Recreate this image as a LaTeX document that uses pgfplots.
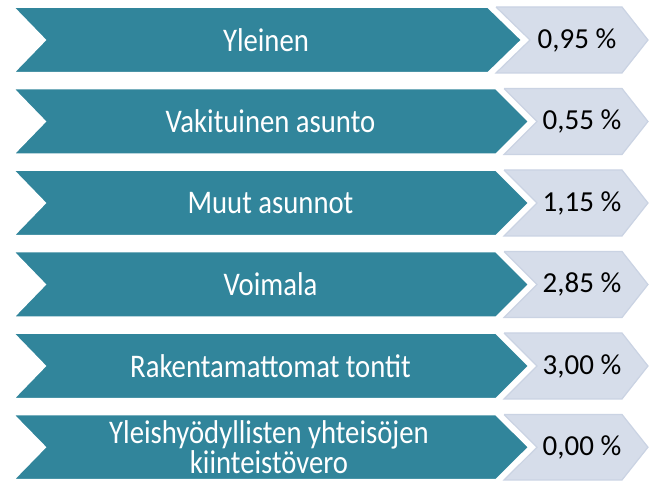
\documentclass[border=0pt]{standalone}
\usepackage{pgfplots}
\pgfplotsset{compat=1.18}
\usepackage{fontspec}
\setmainfont{Carlito}
\newfontfamily\labfont[FakeStretch=0.87]{Carlito}
\definecolor{tealc}{RGB}{49,133,155}
\definecolor{lightc}{RGB}{214,221,234}
\definecolor{lightb}{RGB}{202,211,227}
\tikzset{
  lab/.style={font=\labfont\fontsize{33}{30}\selectfont, text=white, align=center},
  val/.style={font=\fontsize{29}{32}\selectfont, text=black},
}
\begin{document}
\begin{tikzpicture}
\begin{axis}[
  width=649pt, height=481pt, scale only axis,
  xmin=0, xmax=649, ymin=0, ymax=481, y dir=reverse,
  axis lines=none, clip=false,
]
\path (axis cs:0,0) rectangle (axis cs:649,481);
% light value chevrons
\addplot[fill=lightc, draw=lightb, line width=1.2pt] coordinates {(496,7) (622,7) (648,40) (622,73) (496,73) (530,40) (496,7)};
\addplot[fill=lightc, draw=lightb, line width=1.2pt] coordinates {(504,88.5) (622,88.5) (648,121.5) (622,154.5) (504,154.5) (537,121.5) (504,88.5)};
\addplot[fill=lightc, draw=lightb, line width=1.2pt] coordinates {(504,170) (622,170) (648,203) (622,236) (504,236) (537,203) (504,170)};
\addplot[fill=lightc, draw=lightb, line width=1.2pt] coordinates {(504,251.5) (622,251.5) (648,284.5) (622,317.5) (504,317.5) (537,284.5) (504,251.5)};
\addplot[fill=lightc, draw=lightb, line width=1.2pt] coordinates {(504,333) (622,333) (648,366) (622,399) (504,399) (537,366) (504,333)};
\addplot[fill=lightc, draw=lightb, line width=1.2pt] coordinates {(504,414.5) (622,414.5) (648,447.2) (622,480) (504,480) (537,447.2) (504,414.5)};
% teal label chevrons
\addplot[fill=tealc, draw=white, line width=2pt] coordinates {(13,7) (488,7) (522,40) (488,73) (13,73) (45,40) (13,7)};
\addplot[fill=tealc, draw=white, line width=2pt] coordinates {(13,88.5) (496,88.5) (529,121.5) (496,154.5) (13,154.5) (45,121.5) (13,88.5)};
\addplot[fill=tealc, draw=white, line width=2pt] coordinates {(13,170) (496,170) (529,203) (496,236) (13,236) (45,203) (13,170)};
\addplot[fill=tealc, draw=white, line width=2pt] coordinates {(13,251.5) (496,251.5) (529,284.5) (496,317.5) (13,317.5) (45,284.5) (13,251.5)};
\addplot[fill=tealc, draw=white, line width=2pt] coordinates {(13,333) (496,333) (529,366) (496,399) (13,399) (45,366) (13,333)};
\addplot[fill=tealc, draw=white, line width=2pt] coordinates {(13,414.5) (496,414.5) (529,447.2) (496,480) (13,480) (45,447.2) (13,414.5)};
% labels
\node[lab] at (axis cs:266,40) {Yleinen};
\node[lab] at (axis cs:270.5,121.5) {Vakituinen asunto};
\node[lab] at (axis cs:270.5,203) {Muut asunnot};
\node[lab] at (axis cs:270.5,284.5) {Voimala};
\node[lab] at (axis cs:270.5,366) {Rakentamattomat tontit};
\node[lab] at (axis cs:269,447.5) {Yleishyödyllisten yhteisöjen\\kiinteistövero};
% values
\node[val] at (axis cs:577,40) {0,95 \%};
\node[val] at (axis cs:582,121.5) {0,55 \%};
\node[val] at (axis cs:582,203) {1,15 \%};
\node[val] at (axis cs:582,284.5) {2,85 \%};
\node[val] at (axis cs:582,366) {3,00 \%};
\node[val] at (axis cs:582,447.5) {0,00 \%};
\end{axis}
\end{tikzpicture}
\end{document}
